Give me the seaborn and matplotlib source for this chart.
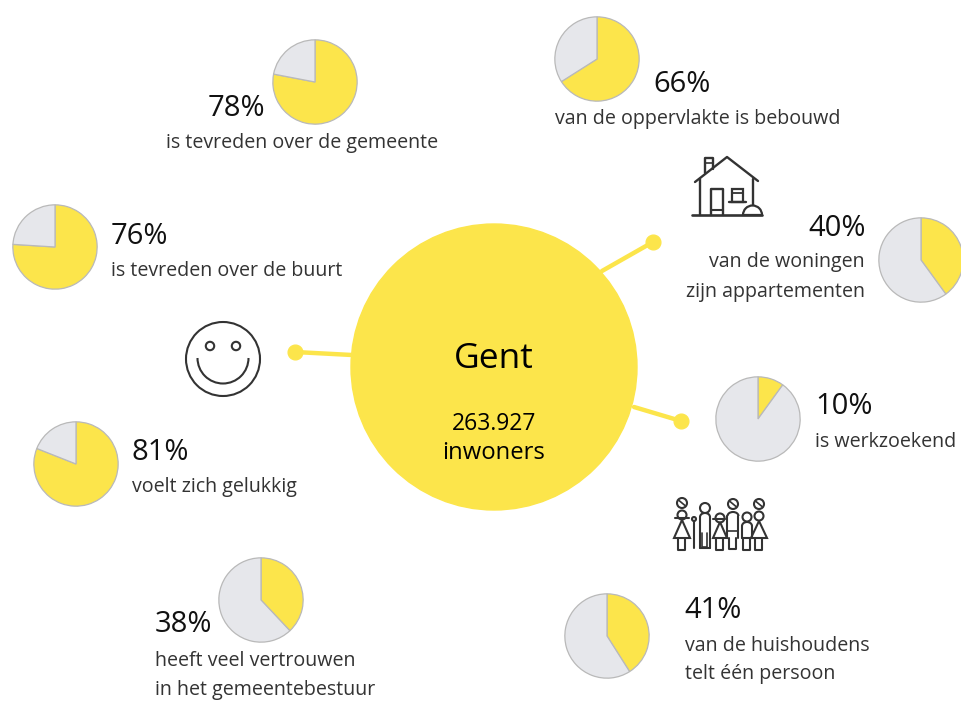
# Gent infographic - pies around a central circle

import numpy as np
import pandas as pd
import matplotlib.pyplot as plt
from matplotlib.patches import Circle, Arc, Polygon, Rectangle, Wedge
import seaborn as sns

sns.set_theme(style='white')
plt.rcParams['font.family'] = ['Open Sans', 'DejaVu Sans']

W, H = 962, 701
YELLOW = '#fce54b'
GREY = '#e6e7eb'
EDGE = '#b9b9b9'
INK = '#333333'

# data
percentages = [78, 66, 76, 40, 10, 81, 38, 41]
pct_labels = ['78%', '66%', '76%', '40%', '10%', '81%', '38%', '41%']
captions = [['is tevreden over de gemeente'], ['van de oppervlakte is bebouwd'],
            ['is tevreden over de buurt'], ['van de woningen', 'zijn appartementen'],
            ['is werkzoekend'], ['voelt zich gelukkig'],
            ['heeft veel vertrouwen', 'in het gemeentebestuur'],
            ['van de huishoudens', 'telt één persoon']]

# layout in pixels
pie_x = [315, 597, 55, 921, 758, 76, 261, 607]
pie_y = [82, 59, 247, 260, 419, 464, 600, 636]
pct_pos = [(208, 108, 'left'), (653, 84, 'left'), (111, 236, 'left'), (866, 228, 'right'),
           (815, 407, 'left'), (132, 453, 'left'), (155, 625, 'left'), (684, 610, 'left')]
cap_pos = [(166, 143, 'left', [0]), (555, 119, 'left', [0]), (111, 271, 'left', [0]),
           (865, 262, 'right', [0, 30]), (815, 442, 'left', [0]), (132, 487, 'left', [0]),
           (155, 661, 'left', [0, 29]), (685, 646, 'left', [0, 28])]
spokes = pd.DataFrame({
    'x': [602, 653, 352, 295, 634, 681],
    'y': [271, 242, 355, 352, 407, 421],
    'spoke': ['a', 'a', 'b', 'b', 'c', 'c'],
})
ends = spokes.iloc[[1, 3, 5]]

fig = plt.figure(figsize=(W / 100, H / 100), dpi=100)
ax = fig.add_axes([0, 0, 1, 1])

sns.lineplot(data=spokes, x='x', y='y', units='spoke', estimator=None, color=YELLOW,
             linewidth=3.2, legend=False, ax=ax)
sns.scatterplot(data=ends, x='x', y='y', color=YELLOW, s=115, edgecolor=YELLOW,
                legend=False, ax=ax, zorder=3)
ax.set_xlim(0, W)
ax.set_ylim(H, 0)
ax.axis('off')

ax.add_patch(Circle((494, 367), 143, color=YELLOW, zorder=4))
ax.text(494, 359, 'Gent', ha='center', va='center', fontsize=25.5, color='black', zorder=5)
ax.text(494, 424, '263.927', ha='center', va='center', fontsize=16.5, color='black', zorder=5)
ax.text(494, 453, 'inwoners', ha='center', va='center', fontsize=17.2, color='black', zorder=5)

# pies
R = 42
for v, px, py in zip(percentages, pie_x, pie_y):
    pax = fig.add_axes([(px - R - 1) / W, 1 - (py + R + 1) / H, (2 * R + 2) / W, (2 * R + 2) / H])
    pax.pie([v, 100 - v], colors=[YELLOW, GREY], startangle=90, counterclock=False, radius=1,
            wedgeprops={'edgecolor': EDGE, 'linewidth': 0.9})
    pax.set_xlim(-1.02, 1.02)
    pax.set_ylim(-1.02, 1.02)

# texts
for s, (x, y, ha) in zip(pct_labels, pct_pos):
    ax.text(x, y, s, ha=ha, va='center', fontsize=21, color='#111111')
for lines, (x, y, ha, offs) in zip(captions, cap_pos):
    for s, off in zip(lines, offs):
        ax.text(x, y + off, s, ha=ha, va='center', fontsize=14.1, color=INK)


def ln(xs, ys, lw=1.6):
    ax.plot(xs, ys, color=INK, lw=lw, solid_capstyle='round', solid_joinstyle='round')


# smiley
ax.add_patch(Circle((223, 359), 37, fill=False, ec=INK, lw=1.5))
ax.add_patch(Circle((210, 346), 4.2, fill=False, ec=INK, lw=1.5))
ax.add_patch(Circle((236, 346), 4.2, fill=False, ec=INK, lw=1.5))
ax.add_patch(Arc((223, 358), 51, 51, theta1=0, theta2=180, ec=INK, lw=1.5))

# house
ln([695, 727, 758], [182, 157, 181], 1.7)
ln([700, 700], [179, 215], 1.7)
ln([753, 753], [179, 205], 1.7)
ln([692, 762], [215, 215], 1.9)
ln([705, 705, 713, 713], [173, 158, 158, 169], 1.7)
ln([705, 713], [163, 163], 1.2)
ln([711, 711, 723, 723], [215, 189, 189, 215], 1.7)
ln([711, 723], [210, 210], 1.5)
ax.add_patch(Rectangle((732, 189), 11, 13, fill=False, ec=INK, lw=1.6))
ln([729, 746], [202, 202], 1.7)
ln([732, 743], [193, 193], 1.3)
ax.add_patch(Wedge((752.5, 215), 9.5, 180, 360, fill=False, ec=INK, lw=1.6))


# family
def head(x, y, r=4.5, slash=False):
    ax.add_patch(Circle((x, y), r, fill=False, ec=INK, lw=1.5))
    if slash:
        ln([x - r * 0.6, x + r * 0.6], [y - r * 0.5, y + r * 0.5], 1.2)


def dress(x, top, bottom, half):
    ax.add_patch(Polygon([(x, top), (x - half, bottom), (x + half, bottom)], closed=True,
                         fill=False, ec=INK, lw=1.5))


def legs(x, y0, y1, half=3.5):
    ln([x - half, x - half, x + half, x + half], [y0, y1, y1, y0], 1.5)


def body(x, y0, y1, half=5):
    ln([x - half, x - half], [y0 + 4, y1], 1.5)
    ln([x + half, x + half], [y0 + 4, y1], 1.5)
    ax.add_patch(Arc((x, y0 + 4), 2 * half, 8, theta1=180, theta2=360, ec=INK, lw=1.5))


head(682, 503, 5, slash=True)
head(682, 515, 4.5)
ln([675, 689], [518, 518], 1.5)
dress(682, 520, 538, 8)
legs(682, 538, 550)
ln([694, 694], [521, 548], 1.5)
head(694, 519, 2)
head(705, 508, 5)
body(705, 513, 548, 5)
ln([700, 710], [548, 548], 1.5)
ln([702.5, 702.5, 707.5, 707.5], [533, 547, 547, 533], 1.2)
head(720, 518, 4.5)
ln([713, 725], [519, 519], 1.5)
dress(720, 522, 538, 7)
legs(720, 538, 550)
head(733, 504, 5, slash=True)
body(733, 512, 538, 5.5)
legs(733, 538, 549, 3.5)
ln([727.5, 738.5], [531, 531], 1.2)
head(747, 517, 4.5)
body(747, 522, 538, 5)
ln([742, 752], [538, 538], 1.5)
legs(747, 538, 550)
head(759, 504, 5, slash=True)
head(759, 516, 4.5)
dress(759, 521, 538, 8)
legs(759, 538, 550)

fig.savefig('out.png', dpi=100)
plt.close()
